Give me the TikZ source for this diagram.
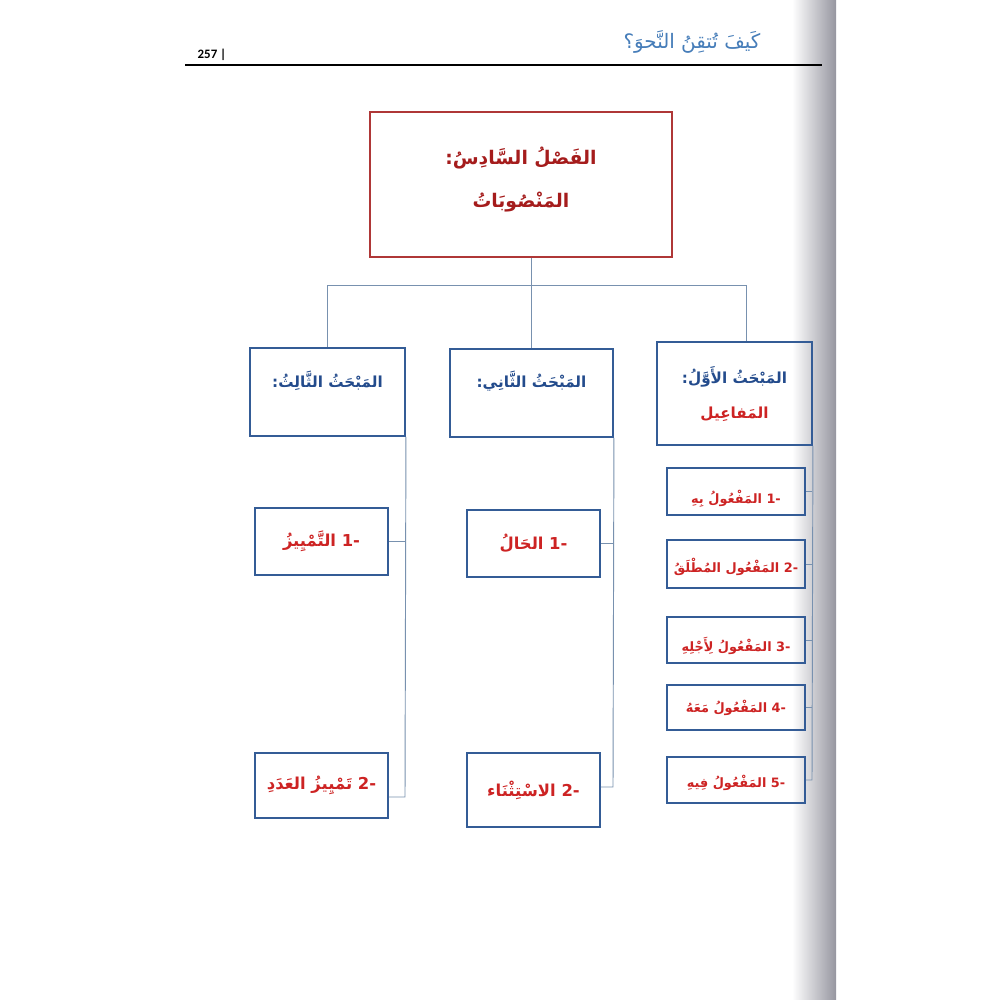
\documentclass[tikz,border=0pt]{standalone}
\usepackage{fontspec}
\newfontfamily\arabicfont[Script=Arabic]{DejaVu Sans}
\newfontfamily\numfont{Carlito}
\TeXXeTstate=1
\definecolor{boxblue}{RGB}{52,92,150}
\definecolor{linkblue}{RGB}{120,145,175}
\definecolor{txtblue}{RGB}{35,75,140}
\definecolor{txtred}{RGB}{205,35,35}
\definecolor{darkred}{RGB}{165,28,28}
\definecolor{boxred}{RGB}{175,55,55}
\definecolor{headblue}{RGB}{70,125,185}
\definecolor{shadowgray}{RGB}{150,150,160}
\begin{document}
\begin{tikzpicture}[x=0.3mm,y=-0.3mm,
  bluebox/.style={draw=boxblue,line width=1.6pt,inner sep=0pt},
  redbox/.style={draw=boxred,line width=1.6pt,inner sep=0pt},
  link/.style={draw=linkblue,line width=0.8pt},
  chtxt/.style={inner sep=0pt,text=darkred,font=\arabicfont\bfseries\fontsize{16}{20}\selectfont},
  sectxt/.style={inner sep=0pt,text=txtblue,font=\arabicfont\bfseries\fontsize{13}{16}\selectfont},
  subtxt/.style={inner sep=0pt,text=txtred,font=\arabicfont\bfseries\fontsize{13}{16}\selectfont},
  bigitem/.style={inner sep=0pt,text=txtred,font=\arabicfont\bfseries\fontsize{14}{17}\selectfont},
  smallitem/.style={inner sep=0pt,text=txtred,font=\arabicfont\bfseries\fontsize{11}{13}\selectfont}
]
\useasboundingbox (0,0) rectangle (1000,1000);
\fill[white] (0,0) rectangle (1000,1000);
% binding shadow
\shade[left color=white,right color=shadowgray] (792,0) rectangle (836,1000);

% header
\node[inner sep=0pt,font=\numfont\bfseries\fontsize{11}{13}\selectfont] (pnum) at (212,55) {257 |};
\node[inner sep=0pt,text=headblue,font=\arabicfont\fontsize{17}{20}\selectfont] (htitle) at (692,42) {\beginR كَيفَ تُتقِنُ النَّحوَ؟\endR};
\coordinate (rl) at (185,65);
\coordinate (rr) at (822,65);
\draw[line width=2pt] (rl) -- (rr);

% chapter box
\node[redbox,minimum width=90.6mm,minimum height=43.5mm] (ch) at (521,184.5) {};
\node[chtxt] (ch1) at (521,158) {\beginR الفَصْلُ السَّادِسُ:\endR};
\node[chtxt] (ch2) at (521,202) {\beginR المَنْصُوبَاتُ\endR};

% section boxes
\node[bluebox,minimum width=46.5mm,minimum height=30.9mm] (s1) at (734.5,393.5) {};
\node[sectxt] (s1a) at (734.5,377) {\beginR المَبْحَثُ الأَوَّلُ:\endR};
\node[subtxt] (s1b) at (734.5,414) {\beginR المَفاعِيل\endR};

\node[bluebox,minimum width=48.9mm,minimum height=26.4mm] (s2) at (531.5,393) {};
\node[sectxt] (s2a) at (531.5,381) {\beginR المَبْحَثُ الثَّانِي:\endR};

\node[bluebox,minimum width=46.5mm,minimum height=26.4mm] (s3) at (327.5,392) {};
\node[sectxt] (s3a) at (327.5,381) {\beginR المَبْحَثُ الثَّالِثُ:\endR};

% tree connectors from chapter
\coordinate (jc) at (531,285);
\coordinate (j1) at (746,285);
\coordinate (j3) at (327.5,285);
\draw[link] (ch.south -| jc) -- (jc);
\draw[link] (j3) -- (j1);
\draw[link] (j1) -- (s1.north -| j1);
\draw[link] (jc) -- (s2.north -| jc);
\draw[link] (j3) -- (s3.north -| j3);

% section 2 children
\node[bluebox,minimum width=39.9mm,minimum height=20.1mm] (h1) at (533.5,543.5) {};
\node[bigitem] (h1t) at (533.5,543.5) {\beginR الحَالُ\endR\ -1};
\node[bluebox,minimum width=39.9mm,minimum height=22.2mm] (h2) at (533.5,790) {};
\node[bigitem] (h2t) at (533.5,790) {\beginR الاسْتِثْنَاء\endR\ -2};
\coordinate (v2b) at (613,787);
\draw[link] (s2.south east) -- (v2b) -- (h2.east |- v2b);
\draw[link] (h1.east) -- (h1.east -| v2b);

% section 3 children
\node[bluebox,minimum width=39.9mm,minimum height=20.1mm] (t1) at (321.5,541.5) {};
\node[bigitem] (t1t) at (321.5,541.5) {\beginR التَّمْيِيزُ\endR\ -1};
\node[bluebox,minimum width=39.9mm,minimum height=19.5mm] (t2) at (321.5,785.5) {};
\node[bigitem] (t2t) at (321.5,785.5) {\beginR تَمْيِيزُ العَدَدِ\endR\ -2};
\coordinate (v3b) at (405,797);
\draw[link] (s3.south east) -- (v3b) -- (t2.east |- v3b);
\draw[link] (t1.east) -- (t1.east -| v3b);

% section 1 children
\node[bluebox,minimum width=41.4mm,minimum height=14.1mm] (m1) at (736,491.5) {};
\node[smallitem] (m1t) at (736,499) {\beginR المَفْعُولُ بِهِ\endR\ -1};
\node[bluebox,minimum width=41.4mm,minimum height=14.4mm] (m2) at (736,564) {};
\node[smallitem] (m2t) at (736,567) {\beginR المَفْعُول المُطْلَقُ\endR\ -2};
\node[bluebox,minimum width=41.4mm,minimum height=13.8mm] (m3) at (736,640) {};
\node[smallitem] (m3t) at (736,646) {\beginR المَفْعُولُ لِأَجْلِهِ\endR\ -3};
\node[bluebox,minimum width=41.4mm,minimum height=13.5mm] (m4) at (736,707.5) {};
\node[smallitem] (m4t) at (736,708) {\beginR المَفْعُولُ مَعَهُ\endR\ -4};
\node[bluebox,minimum width=41.4mm,minimum height=13.8mm] (m5) at (736,780) {};
\node[smallitem] (m5t) at (736,783) {\beginR المَفْعُولُ فِيهِ\endR\ -5};
\coordinate (v1b) at (812,780);
\draw[link] (s1.south east) -- (v1b) -- (m5.east);
\foreach \m in {m1,m2,m3,m4} \draw[link] (\m.east) -- (\m.east -| v1b);
\end{tikzpicture}
\end{document}
